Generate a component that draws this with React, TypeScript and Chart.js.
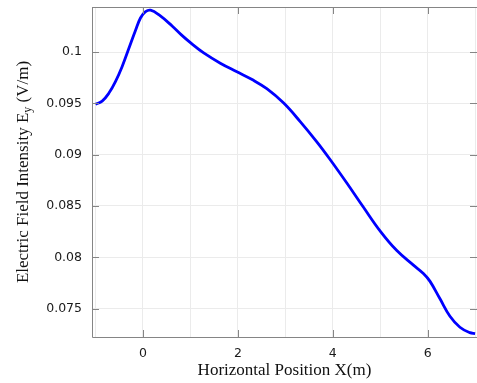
import { useEffect, useRef } from 'react';
import { Chart, registerables } from 'chart.js';

Chart.register(...registerables);

const xPositions = [-1.0, -0.86, -0.72, -0.58, -0.44, -0.3, -0.16, -0.05, 0.055, 0.16, 0.34, 0.62, 0.81, 1.0, 1.28, 1.63, 1.98, 2.3, 2.61, 2.96, 3.31, 3.66, 3.94, 4.3, 4.64, 5.0, 5.35, 5.7, 5.91, 6.05, 6.26, 6.47, 6.68, 6.89, 7.0];
const eyValues = [0.09492, 0.09522, 0.09598, 0.09712, 0.09858, 0.10032, 0.10208, 0.10335, 0.10394, 0.10408, 0.10362, 0.10252, 0.10168, 0.10092, 0.09992, 0.09892, 0.09808, 0.09732, 0.09643, 0.09505, 0.09325, 0.09127, 0.08955, 0.08721, 0.08492, 0.08255, 0.08065, 0.07923, 0.07842, 0.07765, 0.07595, 0.07425, 0.07318, 0.07265, 0.07256];

const xGridValues = [-1, 0, 1, 2, 3, 4, 5, 6, 7];
const xLabelValues = [0, 2, 4, 6];
const yTickValues = [0.075, 0.08, 0.085, 0.09, 0.095, 0.1];

const xTitle = 'Horizontal Position X(m)';
const yTitleMain = 'Electric Field Intensity E';
const yTitleSub = 'y';
const yTitleTail = ' (V/m)';

const AXIS_GRAY = '#858585';
const SERIF = '"Liberation Serif", "Times New Roman", serif';

const framePlugin = {
  id: 'frameAndTitle',
  afterDraw(chart: any) {
    const { ctx, chartArea } = chart;
    const { left, right, top, bottom } = chartArea;
    const xs = chart.scales.x;
    const ys = chart.scales.y;
    const tl = 7;
    ctx.save();
    ctx.strokeStyle = AXIS_GRAY;
    ctx.lineWidth = 1;
    ctx.beginPath();
    ctx.moveTo(left + 0.5, top + 0.5);
    ctx.lineTo(right, top + 0.5);
    ctx.moveTo(left + 0.5, top);
    ctx.lineTo(left + 0.5, bottom + 0.5);
    ctx.lineTo(right, bottom + 0.5);
    for (const v of xLabelValues) {
      const px = Math.round(xs.getPixelForValue(v)) + 0.5;
      ctx.moveTo(px, bottom);
      ctx.lineTo(px, bottom - tl);
      ctx.moveTo(px, top);
      ctx.lineTo(px, top + tl);
    }
    for (const v of yTickValues) {
      const py = Math.round(ys.getPixelForValue(v)) + 0.5;
      ctx.moveTo(left, py);
      ctx.lineTo(left + tl, py);
      ctx.moveTo(right, py);
      ctx.lineTo(right - tl, py);
    }
    ctx.stroke();

    // y-axis title with subscript
    const mainFont = `17px ${SERIF}`;
    const subFont = `12px ${SERIF}`;
    ctx.font = mainFont;
    const w1 = ctx.measureText(yTitleMain).width;
    const w3 = ctx.measureText(yTitleTail).width;
    ctx.font = subFont;
    const w2 = ctx.measureText(yTitleSub).width;
    const total = w1 + w2 + w3;
    const cy = (top + bottom) / 2;
    ctx.translate(28, cy);
    ctx.rotate(-Math.PI / 2);
    ctx.fillStyle = '#111';
    ctx.textBaseline = 'alphabetic';
    ctx.textAlign = 'left';
    const start = -total / 2;
    ctx.font = mainFont;
    ctx.fillText(yTitleMain, start, 0);
    ctx.font = subFont;
    ctx.fillText(yTitleSub, start + w1, 3);
    ctx.font = mainFont;
    ctx.fillText(yTitleTail, start + w1 + w2, 0);
    ctx.restore();
  },
};

function zeroPadding(scale: any) {
  scale.paddingTop = 0;
  scale.paddingBottom = 0;
  scale.paddingLeft = 0;
  scale.paddingRight = 0;
}

export default function App() {
  const canvasRef = useRef<HTMLCanvasElement | null>(null);

  useEffect(() => {
    document.body.style.margin = '0';
    const canvas = canvasRef.current;
    if (!canvas) return;
    const points = xPositions.map((x, i) => ({ x, y: eyValues[i] }));
    const chart = new Chart(canvas, {
      type: 'line',
      data: {
        datasets: [
          {
            data: points,
            borderColor: '#0000ff',
            borderWidth: 2.8,
            pointRadius: 0,
            tension: 0.4,
            fill: false,
          },
        ],
      },
      options: {
        animation: false,
        responsive: false,
        layout: { padding: { top: 7, right: 0, left: 0, bottom: 0 } },
        plugins: { legend: { display: false }, tooltip: { enabled: false } },
        scales: {
          x: {
            type: 'linear',
            min: -1.074,
            max: 7.04,
            afterFit(scale: any) {
              scale.height = 46;
              zeroPadding(scale);
            },
            afterBuildTicks(scale: any) {
              scale.ticks = xGridValues.map((v) => ({ value: v }));
            },
            grid: { color: '#ebebeb', lineWidth: 1, drawTicks: false },
            border: { display: false },
            ticks: {
              autoSkip: false,
              maxRotation: 0,
              padding: 9,
              color: '#1a1a1a',
              font: { family: '"DejaVu Sans"', size: 12.5 },
              callback: (v: any) => (xLabelValues.includes(Number(v)) ? String(v) : ''),
            },
            title: {
              display: true,
              text: xTitle,
              color: '#111',
              font: { family: SERIF, size: 17 },
              padding: { top: 0, bottom: 2 },
            },
          },
          y: {
            type: 'linear',
            min: 0.072227,
            max: 0.104395,
            afterFit(scale: any) {
              scale.width = 92;
              zeroPadding(scale);
            },
            afterBuildTicks(scale: any) {
              scale.ticks = yTickValues.map((v) => ({ value: v }));
            },
            grid: { color: '#ebebeb', lineWidth: 1, drawTicks: false },
            border: { display: false },
            ticks: {
              padding: 10,
              color: '#1a1a1a',
              font: { family: '"DejaVu Sans"', size: 12.5 },
              callback: (v: any) => String(Number(Number(v).toFixed(4))),
            },
          },
        },
      },
      plugins: [framePlugin],
    });
    return () => chart.destroy();
  }, []);

  return <canvas ref={canvasRef} width={477} height={383} style={{ display: 'block' }} />;
}
